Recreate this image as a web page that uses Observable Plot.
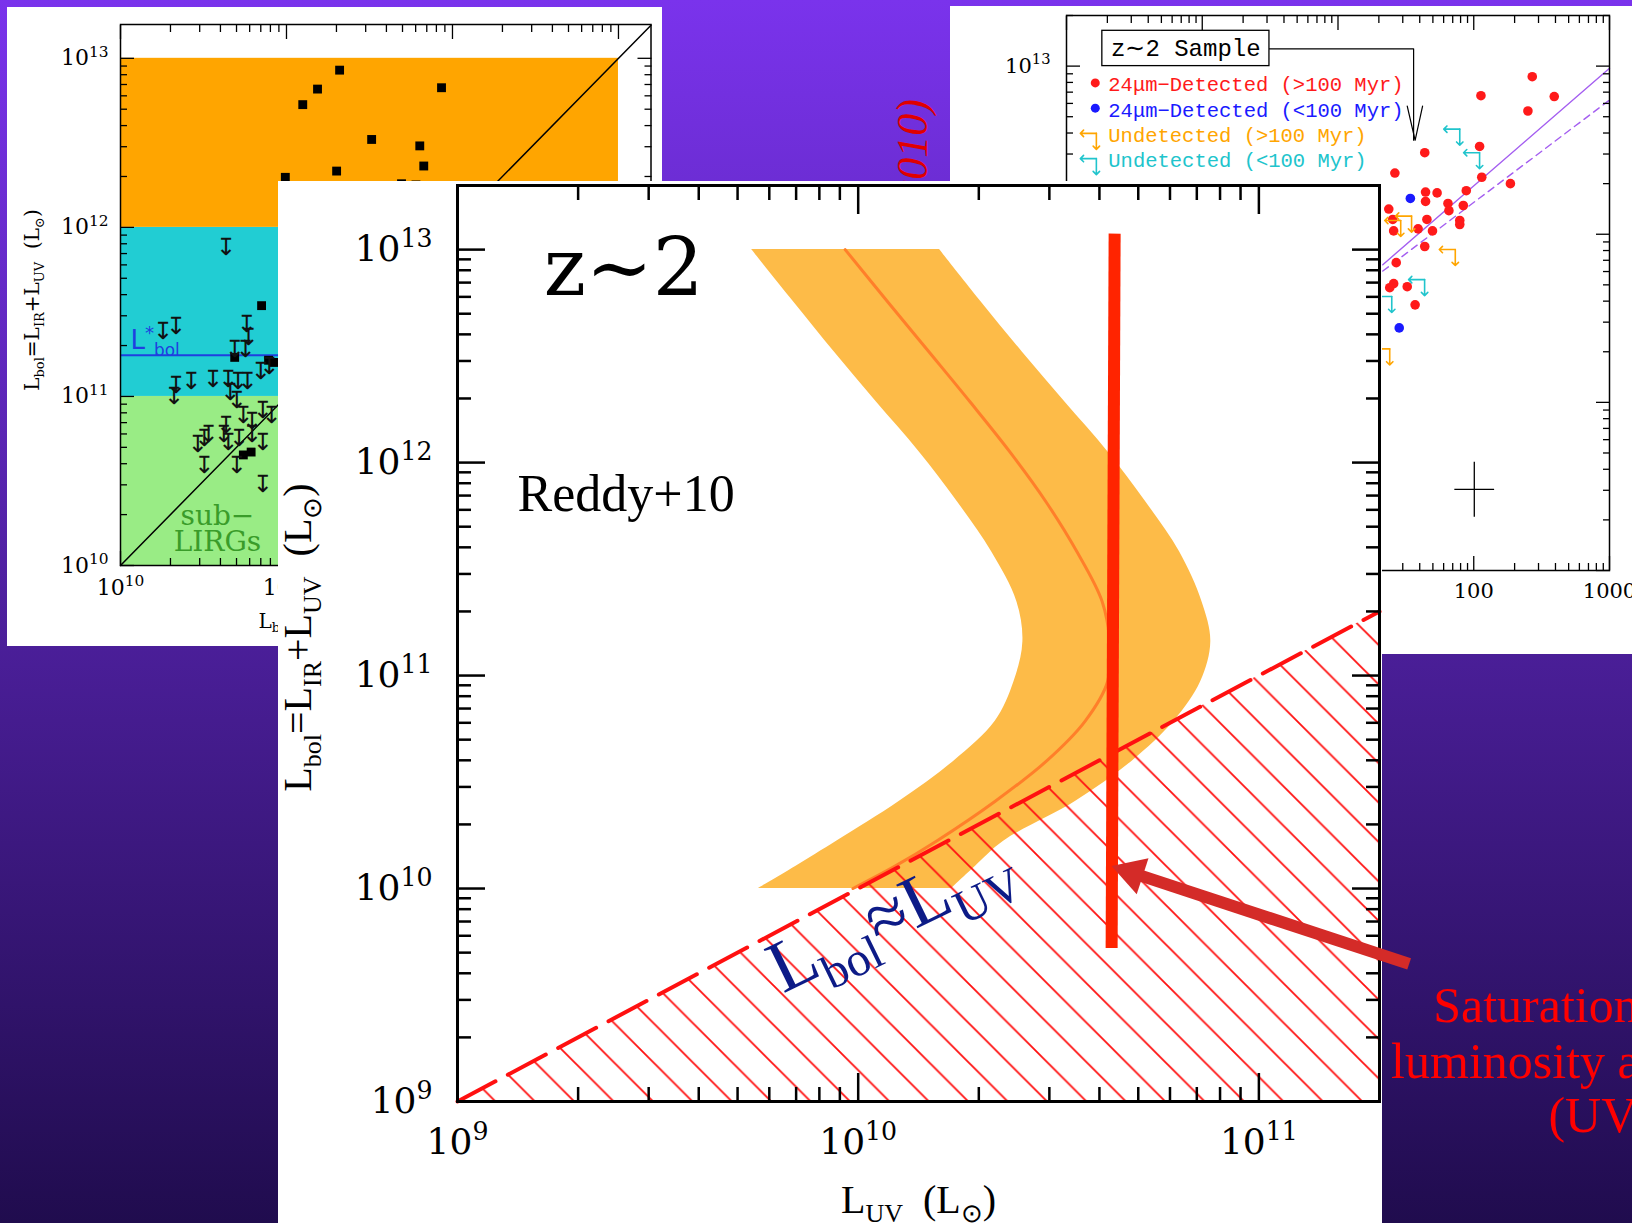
<!DOCTYPE html>
<html>
<head>
<meta charset="utf-8">
<script src="https://cdn.jsdelivr.net/npm/d3@7"></script>
<script src="https://cdn.jsdelivr.net/npm/@observablehq/plot@0.6"></script>
<style>
  html, body { margin: 0; padding: 0; }
  body { width: 1632px; height: 1223px; overflow: hidden; position: relative;
         background: linear-gradient(180deg, #7a33ec 0%, #200c4e 100%); }
  .abs { position: absolute; }
  #leftInset { left: 7px; top: 7px; width: 655px; height: 639px; background: #fff; overflow: hidden; }
  #rightInset { left: 950px; top: 6px; width: 682px; height: 648px; background: #fff; overflow: hidden; }
  #panel { left: 278px; top: 181px; width: 1104px; height: 1042px; background: #fff; }
  #main { left: 0; top: 0; width: 1632px; height: 1223px; }
  svg { display: block; }
</style>
</head>
<body>
<div id="leftInset" class="abs"></div>
<div id="rightInset" class="abs"></div>
<svg id="cite" class="abs" style="left:860px;top:0" width="90" height="200">
  <text transform="translate(67,99) rotate(-90)" text-anchor="end" font-family="Liberation Serif" font-style="italic" font-size="44" fill="#e00000">Reddy et al. (2010)</text>
</svg>
<div id="panel" class="abs"></div>
<div id="main" class="abs"></div>
<script>
// ================= DATA (log10 luminosities) =================
// Main chart: Reddy+10 band (orange) — y level, left edge, right edge, central curve
const bandLogY     = [13.0, 12.752, 12.518, 12.283, 12.049, 11.815, 11.581, 11.347, 11.159, 10.972, 10.785, 10.597, 10.410, 10.222, 10.105, 10.0];
const bandLogLeft  = [9.734, 9.840, 9.941, 10.046, 10.153, 10.248, 10.333, 10.396, 10.411, 10.389, 10.342, 10.238, 10.103, 9.946, 9.845, 9.751];
const bandLogRight = [10.203, 10.308, 10.410, 10.5165, 10.624, 10.718, 10.802, 10.858, 10.880, 10.855, 10.788, 10.683, 10.543, 10.363, 10.293, 10.233];
const bandLogMid   = [9.9675, 10.075, 10.1775, 10.280, 10.379, 10.469, 10.546, 10.609, 10.6275, 10.6225, 10.566, 10.469, 10.342, 10.195, 10.092, 9.987];
// L_bol = L_UV boundary
const equalityLum = [1e9, 2e11];
// saturation line (vertical red bar)
const satLogX = [10.64, 10.6325];
const satLogY = [13.075, 9.721];
// annotation arrow: tail, head
const arrowLogX = [11.375, 10.684];
const arrowLogY = [9.646, 10.0735];
// main axis ticks
const mainXMajor = [1e9, 1e10, 1e11];
const mainYMajor = [1e9, 1e10, 1e11, 1e12, 1e13];
// side note
const noteLines = ["Saturation of the", "luminosity and", "(UV)"];
const noteLogX = [11.435, 11.33, 11.7225];
const noteLogY = [9.375, 9.112, 8.855];

// Left inset (background figure)
const liBandLo = [10, 11, 12];
const liBandHi = [11, 12, 13];
const liBandColor = ["#99ec85", "#21cdd3", "#ffa500"];
const liLbolStar = 11.243;
const liSqLogX = [11.320, 11.187, 11.098, 11.934, 11.513, 11.803, 11.827, 11.302, 10.993, 11.693, 11.780, 10.850, 10.688, 10.892, 10.740, 10.787, 10.923];
const liSqLogY = [12.930, 12.818, 12.726, 12.826, 12.520, 12.482, 12.363, 12.333, 12.296, 12.258, 12.251, 11.537, 11.231, 11.214, 10.654, 10.671, 11.201];
const liLimLogX = [10.636, 10.257, 10.335, 10.761, 10.771, 10.753, 10.688, 10.335, 10.427, 10.557, 10.649, 10.708, 10.766, 10.322, 10.662, 10.701, 10.845, 10.897, 10.858, 10.910, 10.740, 10.505, 10.466, 10.531, 10.622, 10.649, 10.714, 10.792, 10.858, 10.505, 10.701, 10.858, 10.636, 10.792];
const liLimLogY = [11.885, 11.388, 11.413, 11.425, 11.350, 11.276, 11.276, 11.064, 11.089, 11.102, 11.102, 11.089, 11.089, 11.002, 11.027, 10.978, 11.151, 11.176, 10.915, 10.890, 10.890, 10.754, 10.716, 10.778, 10.778, 10.729, 10.754, 10.778, 10.729, 10.592, 10.592, 10.480, 10.828, 10.853];

// Right inset (background figure)
const riRedLogX = [2.431, 2.053, 2.593, 2.399, 1.639, 2.043, 1.419, 2.059, 2.270, 1.645, 1.730, 1.945, 1.810, 1.923, 1.645, 1.374, 1.817, 1.655, 1.403, 1.590, 1.696, 1.897, 1.897, 1.410, 1.639, 1.429, 1.510, 1.410, 1.381, 1.568];
const riRedLogY = [12.937, 12.824, 12.819, 12.733, 12.485, 12.522, 12.364, 12.339, 12.301, 12.251, 12.246, 12.259, 12.183, 12.171, 12.195, 12.150, 12.140, 12.088, 12.088, 12.032, 12.020, 12.082, 12.058, 12.020, 11.927, 11.831, 11.688, 11.706, 11.682, 11.580];
const riBlueLogX = [1.533, 1.451];
const riBlueLogY = [12.213, 11.443];
const riCyanLogX = [1.897, 2.043, 1.638, 1.396, -0.780];
const riCyanLogY = [12.625, 12.485, 11.730, 11.630, 12.45];
const riOrangeLogX = [1.542, 1.462, 1.864, 1.381, -0.780];
const riOrangeLogY = [12.108, 12.082, 11.909, 11.318, 12.60];
const riFitLogX = [1.330, 3.0];
const riFitSolidLogY = [11.819, 12.987];
const riFitDashLogY = [11.781, 12.798];
const riLegendText = ["24μm−Detected (>100 Myr)", "24μm−Detected (<100 Myr)", "Undetected (>100 Myr)", "Undetected (<100 Myr)"];
const riLegendColor = ["#ff1a1a", "#1a1aff", "#ffa500", "#20c4cc"];
const riLegendLogY = [12.849, 12.697, 12.547, 12.398];
const riLegendLogX = -0.692;

// ================= HELPERS =================
const p10 = v => Math.pow(10, v);
const fmtPow = d => `10^{${Math.round(Math.log10(d))}}`;
const minorsOf = (majors, maxV) => majors.flatMap(m => [2,3,4,5,6,7,8,9].map(k => k * m)).filter(v => v <= maxV);

function innerTicks(xMaj, xMin, yMaj, yMin, maj, min, sw) {
  const out = [];
  for (const a of ["top", "bottom"]) {
    out.push(Plot.axisX({anchor: a, ticks: xMaj, tickSize: -maj, fill: "none", strokeWidth: sw, label: null}));
    out.push(Plot.axisX({anchor: a, ticks: xMin, tickSize: -min, fill: "none", strokeWidth: sw, label: null}));
  }
  for (const a of ["left", "right"]) {
    out.push(Plot.axisY({anchor: a, ticks: yMaj, tickSize: -maj, fill: "none", strokeWidth: sw, label: null}));
    out.push(Plot.axisY({anchor: a, ticks: yMin, tickSize: -min, fill: "none", strokeWidth: sw, label: null}));
  }
  return out;
}

// turns "a_{b}" / "a^{b}" markup into sub/superscript tspans
function richify(svg, supScale = 0.7) {
  d3.select(svg).selectAll("text").each(function () {
    const s = this.textContent;
    if (!/[_^]\{/.test(s)) return;
    const fs = parseFloat(getComputedStyle(this).fontSize) || 16;
    const el = d3.select(this);
    el.text(null);
    let cur = 0, m;
    const re = /([_^])\{([^}]*)\}|([^_^]+)/g;
    while ((m = re.exec(s))) {
      if (m[3] !== undefined) {
        el.append("tspan").attr("dy", -cur).text(m[3]);
        cur = 0;
      } else {
        const sup = m[1] === "^";
        const t = sup ? -0.4 * fs : 0.24 * fs;
        el.append("tspan").attr("dy", t - cur).attr("font-size", (sup ? supScale : 0.65) * fs).text(m[2]);
        cur = t;
      }
    }
  });
}

// ================= MAIN CHART =================
const band = bandLogY.map((v, i) => ({y: p10(v), left: p10(bandLogLeft[i]), right: p10(bandLogRight[i]), mid: p10(bandLogMid[i])}));
const sat = {x1: p10(satLogX[0]), y1: p10(satLogY[0]), x2: p10(satLogX[1]), y2: p10(satLogY[1])};
const arrow = {x1: p10(arrowLogX[0]), y1: p10(arrowLogY[0]), x2: p10(arrowLogX[1]), y2: p10(arrowLogY[1])};
const notes = noteLines.map((t, i) => ({t, x: p10(noteLogX[i]), y: p10(noteLogY[i])}));

const mainSvg = Plot.plot({
  width: 1632, height: 1223,
  marginLeft: 457, marginRight: 253, marginTop: 185, marginBottom: 122,
  x: {type: "log", domain: [1e9, 2e11]},
  y: {type: "log", domain: [1e9, 2e13]},
  style: {background: "transparent", fontFamily: "DejaVu Serif", fontSize: "36px", color: "black", maxWidth: "none"},
  marks: [
    Plot.areaX(band, {y: "y", x1: "left", x2: "right", fill: "#fdbb48", curve: "catmull-rom"}),
    Plot.line(band, {x: "mid", y: "y", stroke: "#ff7f2a", strokeWidth: 3, curve: "catmull-rom"}),
    Plot.areaY(equalityLum, {x: d => d, y1: 1e9, y2: d => d, fill: "url(#hatch)"}),
    Plot.line(equalityLum, {x: d => d, y: d => d, stroke: "#ff1010", strokeWidth: 4, strokeDasharray: "43,14"}),
    ...innerTicks(mainXMajor, minorsOf(mainXMajor, 2e11), mainYMajor, minorsOf(mainYMajor, 2e13), 28, 14, 2.5),
    Plot.frame({stroke: "black", strokeWidth: 3}),
    Plot.axisX({anchor: "bottom", ticks: mainXMajor, tickSize: 0, tickPadding: 27, tickFormat: fmtPow, fontSize: 36, label: null}),
    Plot.axisY({anchor: "left", ticks: mainYMajor, tickSize: 0, tickPadding: 25, tickFormat: fmtPow, fontSize: 36, label: null}),
    Plot.text([0], {frameAnchor: "left", textAnchor: "middle", text: () => "L_{bol}=L_{IR}+L_{UV}\u00a0\u00a0(L_{⊙})", rotate: -90, dx: -159, dy: -6, fontSize: 40, fontFamily: "Liberation Serif"}),
    Plot.text([0], {frameAnchor: "bottom", textAnchor: "middle", text: () => "L_{UV}\u00a0\u00a0(L_{⊙})", dy: 111, lineAnchor: "bottom", fontSize: 40, fontFamily: "Liberation Serif"}),
    Plot.text([{t: "z∼2", x: p10(9.215), y: p10(12.787)}], {x: "x", y: "y", text: "t", textAnchor: "start", lineAnchor: "bottom", fontSize: 80, fontFamily: "DejaVu Serif"}),
    Plot.text([{t: "Reddy+10", x: p10(9.15), y: p10(11.775)}], {x: "x", y: "y", text: "t", textAnchor: "start", lineAnchor: "bottom", fontSize: 52, fontFamily: "Liberation Serif"}),
    Plot.text([{t: "L_{bol}≈L_{UV}", x: p10(9.8125), y: p10(9.506)}], {x: "x", y: "y", text: "t", textAnchor: "start", lineAnchor: "bottom", rotate: -26, fontSize: 74, fontFamily: "Liberation Serif", fill: "#0d1b87"}),
    Plot.link([sat], {x1: "x1", y1: "y1", x2: "x2", y2: "y2", stroke: "#ff2400", strokeWidth: 12}),
    Plot.link([arrow], {x1: "x1", y1: "y1", x2: "x2", y2: "y2", stroke: "#d42b28", strokeWidth: 12}),
    Plot.dot([arrow], {x: "x2", y: "y2", symbol: "triangle", r: 14, rotate: 288.2, fill: "#d42b28", stroke: "none"}),
    Plot.text(notes, {x: "x", y: "y", text: "t", textAnchor: "start", lineAnchor: "bottom", fontSize: 50, fontFamily: "Liberation Serif", fill: "#ff0000"})
  ]
});
d3.select(mainSvg).insert("defs", ":first-child").html(
  `<pattern id="hatch" patternUnits="userSpaceOnUse" width="39.4" height="39.4" x="-15" y="0">
     <path d="M0,0L39.4,39.4M-10,29.4L10,49.4M29.4,-10L49.4,10" stroke="#ff1010" stroke-width="1.8" fill="none"/>
   </pattern>`);
document.getElementById("main").appendChild(mainSvg);
richify(mainSvg);

// ================= LEFT INSET =================
const liBands = liBandLo.map((lo, i) => ({lo: p10(lo), hi: p10(liBandHi[i]), color: liBandColor[i]}));
const liSquares = liSqLogX.map((v, i) => ({x: p10(v), y: p10(liSqLogY[i])}));
const liLimits = liLimLogX.map((v, i) => ({x: p10(v), y: p10(liLimLogY[i])}));
const liXMaj = [1e10, 1e11, 1e12, 1e13], liYMaj = [1e10, 1e11, 1e12, 1e13];
const liSvg = Plot.plot({
  width: 655, height: 639, marginLeft: 113, marginTop: 17, marginRight: 11.5, marginBottom: 81,
  x: {type: "log", domain: [1e10, p10(13.196)]},
  y: {type: "log", domain: [1e10, p10(13.2)]},
  color: {type: "identity"},
  style: {background: "white", fontFamily: "DejaVu Serif", fontSize: "20px", maxWidth: "none"},
  marks: [
    Plot.rect(liBands, {x1: 1e10, x2: 1e13, y1: "lo", y2: "hi", fill: "color"}),
    Plot.ruleY([p10(liLbolStar)], {stroke: "#1f3fe0", strokeWidth: 2}),
    Plot.line([1e10, p10(13.196)], {x: d => d, y: d => d, stroke: "black", strokeWidth: 1.5}),
    Plot.dot(liSquares, {x: "x", y: "y", symbol: "square", r: 5, fill: "black"}),
    Plot.text(liLimits, {x: "x", y: "y", text: () => "↧", fontSize: 24, fontFamily: "DejaVu Sans", fill: "#111"}),
    Plot.text([{t: "L^{*}_{bol}", x: p10(10.06), y: p10(11.278)}], {x: "x", y: "y", text: "t", textAnchor: "start", lineAnchor: "bottom", fontSize: 26, fontFamily: "DejaVu Sans", fill: "#1f3fe0"}),
    Plot.text([{t: "sub−\nLIRGs", x: p10(10.584), y: p10(10.084)}], {x: "x", y: "y", text: "t", lineAnchor: "bottom", fontSize: 28, lineHeight: 0.95, fontFamily: "DejaVu Serif", fill: "#3a9c2a"}),
    ...innerTicks(liXMaj, minorsOf(liXMaj, p10(13.196)), liYMaj, minorsOf(liYMaj, p10(13.2)), 14, 7, 1.3),
    Plot.frame({stroke: "black", strokeWidth: 1.5}),
    Plot.axisX({anchor: "bottom", ticks: liXMaj, tickSize: 0, tickPadding: 14, tickFormat: fmtPow, fontSize: 22, label: null}),
    Plot.axisY({anchor: "left", ticks: liYMaj, tickSize: 0, tickPadding: 12, tickFormat: fmtPow, fontSize: 22, label: null}),
    Plot.text([0], {frameAnchor: "left", textAnchor: "middle", text: () => "L_{bol}=L_{IR}+L_{UV}\u00a0\u00a0(L_{⊙})", rotate: -90, dx: -88, dy: 5, fontSize: 20, fontFamily: "DejaVu Serif"}),
    Plot.text([{t: "L_{bol}^{pred} (L_{⊙})", x: p10(10.831)}], {x: "x", frameAnchor: "bottom", text: "t", textAnchor: "start", dy: 62, fontSize: 20, fontFamily: "DejaVu Serif"})
  ]
});
document.getElementById("leftInset").appendChild(liSvg);
richify(liSvg);

// ================= RIGHT INSET =================
const riRed = riRedLogX.map((v, i) => ({x: p10(v), y: p10(riRedLogY[i])}));
const riBlue = riBlueLogX.map((v, i) => ({x: p10(v), y: p10(riBlueLogY[i])}));
const riCyan = riCyanLogX.map((v, i) => ({x: p10(v), y: p10(riCyanLogY[i])}));
const riOrange = riOrangeLogX.map((v, i) => ({x: p10(v), y: p10(riOrangeLogY[i])}));
const riSolid = riFitLogX.map((v, i) => ({x: p10(v), y: p10(riFitSolidLogY[i])}));
const riDash = riFitLogX.map((v, i) => ({x: p10(v), y: p10(riFitDashLogY[i])}));
const riLegend = riLegendText.map((t, i) => ({t, c: riLegendColor[i], x: p10(riLegendLogX), y: p10(riLegendLogY[i])}));
const riLegendDots = [{x: p10(-0.788), y: p10(12.90), c: "#ff1a1a"}, {x: p10(-0.788), y: p10(12.75), c: "#1a1aff"}];
const riXMaj = [0.1, 1, 10, 100, 1000], riYMaj = [1e10, 1e11, 1e12, 1e13];
const limitMarks = (data, c) => [
  Plot.vector(data, {x: "x", y: "y", length: 16, rotate: 270, anchor: "start", stroke: c, strokeWidth: 1.6}),
  Plot.vector(data, {x: "x", y: "y", length: 16, rotate: 180, anchor: "start", stroke: c, strokeWidth: 1.6})
];
const riSvg = Plot.plot({
  width: 682, height: 648, marginLeft: 116, marginTop: 9, marginRight: 23, marginBottom: 84,
  x: {type: "log", domain: [0.1, 1000]},
  y: {type: "log", domain: [1e10, 2e13]},
  color: {type: "identity"},
  style: {background: "white", fontFamily: "DejaVu Serif", fontSize: "20px", maxWidth: "none"},
  marks: [
    Plot.line(riSolid, {x: "x", y: "y", stroke: "#a45ef0", strokeWidth: 1.4}),
    Plot.line(riDash, {x: "x", y: "y", stroke: "#a45ef0", strokeWidth: 1.4, strokeDasharray: "7,5"}),
    Plot.dot(riRed, {x: "x", y: "y", r: 4.8, fill: "#ff1a1a"}),
    Plot.dot(riBlue, {x: "x", y: "y", r: 4.8, fill: "#1a1aff"}),
    ...limitMarks(riCyan, "#20c4cc"),
    ...limitMarks(riOrange, "#ffa500"),
    Plot.link([{x1: p10(2.004), y1: p10(10.319), x2: p10(2.004), y2: p10(10.647)}, {x1: p10(1.857), y1: p10(10.482), x2: p10(2.150), y2: p10(10.482)}], {x1: "x1", y1: "y1", x2: "x2", y2: "y2", stroke: "black", strokeWidth: 1.3}),
    Plot.line([{x: p10(0.495), y: p10(13.103)}, {x: p10(1.557), y: p10(13.103)}, {x: p10(1.557), y: p10(12.559)}], {x: "x", y: "y", stroke: "black", strokeWidth: 1.2}),
    Plot.line([{x: p10(1.510), y: p10(12.762)}, {x: p10(1.568), y: p10(12.559)}, {x: p10(1.623), y: p10(12.762)}], {x: "x", y: "y", stroke: "black", strokeWidth: 1.2}),
    Plot.rect([{x1: p10(-0.736), x2: p10(0.495), y1: p10(13.0), y2: p10(13.21)}], {x1: "x1", x2: "x2", y1: "y1", y2: "y2", fill: "white", stroke: "black", strokeWidth: 1.3}),
    Plot.text([{t: "z∼2 Sample", x: p10(-0.121), y: p10(13.105)}], {x: "x", y: "y", text: "t", fontSize: 24, fontFamily: "Liberation Mono"}),
    Plot.dot(riLegendDots, {x: "x", y: "y", r: 4.5, fill: "c"}),
    Plot.text(riLegend, {x: "x", y: "y", text: "t", fill: "c", textAnchor: "start", lineAnchor: "bottom", fontSize: 20.5, fontFamily: "Liberation Mono"}),
    ...innerTicks(riXMaj, minorsOf(riXMaj, 1000), riYMaj, minorsOf(riYMaj, 2e13), 14, 7, 1.3),
    Plot.frame({stroke: "black", strokeWidth: 1.5}),
    Plot.axisX({anchor: "bottom", ticks: riXMaj, tickSize: 0, tickPadding: 13, tickFormat: d => String(d), fontSize: 21, label: null}),
    Plot.axisY({anchor: "left", ticks: riYMaj, tickSize: 0, tickPadding: 16, tickFormat: fmtPow, fontSize: 21, label: null})
  ]
});
document.getElementById("rightInset").appendChild(riSvg);
richify(riSvg);
</script>
</body>
</html>
